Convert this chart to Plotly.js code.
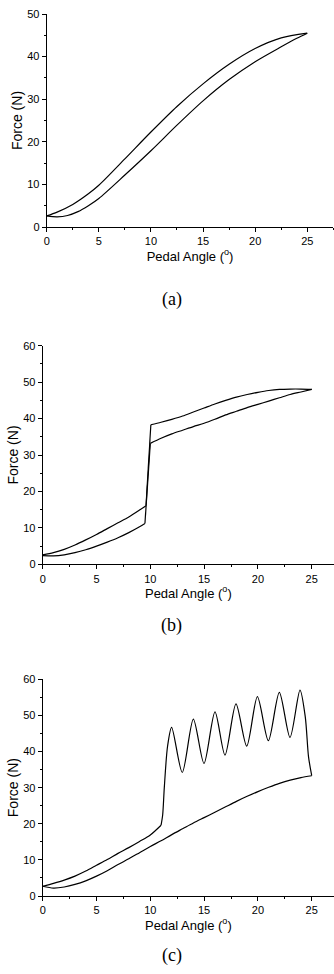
<!DOCTYPE html>
<html>
<head>
<meta charset="utf-8">
<script src="https://cdn.plot.ly/plotly-3.0.1.min.js"></script>
<style>html,body{margin:0;padding:0;background:#fff;}#chart{width:334px;height:974px;}</style>
</head>
<body>
<div id="chart"></div>
<script>
// ---------- data (a) ----------
const aUpperX = [0, 1, 2.5, 4, 5, 7.5, 10, 12.5, 15, 17.5, 20, 22.5, 25];
const aUpperY = [2.6, 3.5, 5.3, 7.8, 9.8, 16.0, 22.3, 28.3, 33.6, 38.2, 41.9, 44.4, 45.5];
const aLowerX = [0, 1, 2, 3, 4, 5, 7.5, 10, 12.5, 15, 17.5, 20, 22.5, 24, 25];
const aLowerY = [2.6, 2.4, 2.7, 3.6, 5.0, 6.7, 12.2, 17.9, 23.9, 29.6, 34.6, 38.8, 42.3, 44.3, 45.5];

// ---------- data (b) ----------
const bLoadPreX  = [0, 1, 2, 3, 4, 5, 6, 7, 8, 9, 9.6];
const bLoadPreY  = [2.6, 3.2, 4.1, 5.3, 6.7, 8.2, 9.8, 11.4, 13.0, 14.9, 16.1];
const bLoadPostX = [10.05, 11, 12, 13, 14, 15, 16, 17, 18, 19, 20, 21, 22, 23, 24, 25];
const bLoadPostY = [38.3, 39.0, 39.8, 40.7, 41.8, 42.9, 44.0, 45.0, 45.9, 46.6, 47.2, 47.7, 48.0, 48.1, 48.1, 48.0];
const bUnloadPostX = [25, 24, 23, 22, 21, 20, 19, 18, 17, 16, 15, 14, 13, 12, 11, 10];
const bUnloadPostY = [48.0, 47.3, 46.6, 45.7, 44.8, 43.9, 43.0, 42.0, 41.0, 39.8, 38.7, 37.8, 36.8, 35.8, 34.6, 33.2];
const bUnloadPreX  = [9.5, 9, 8, 7, 6, 5, 4, 3, 2, 1, 0];
const bUnloadPreY  = [11.2, 10.3, 8.7, 7.3, 6.1, 5.0, 4.0, 3.2, 2.6, 2.3, 2.4];

// ---------- data (c) ----------
const cLoadPreX = [0, 1, 2, 3, 4, 5, 6, 7, 8, 9, 10, 11.0];
const cLoadPreY = [2.7, 3.5, 4.4, 5.5, 6.9, 8.5, 10.1, 11.8, 13.4, 15.1, 16.9, 19.6];
const cOscX = [11.0, 11.15, 11.3, 11.6, 11.98, 12.97, 14.0, 14.99, 16.01, 16.94, 17.96, 18.96, 19.95, 20.97, 21.99, 22.98, 23.91, 24.4, 24.7, 25];
const cOscY = [19.6, 22.5, 30.0, 41.4, 46.7, 34.2, 49.0, 36.7, 51.0, 39.0, 53.2, 41.5, 55.2, 43.0, 56.4, 43.9, 57.0, 49.6, 38.6, 33.3];
const cUnloadX = [25, 24, 23, 22, 21, 20, 19, 18, 17, 16, 15, 14, 13, 12, 11, 10, 9, 8, 7, 6, 5, 4, 3, 2, 1, 0];
const cUnloadY = [33.3, 32.8, 32.1, 31.2, 30.1, 28.9, 27.6, 26.2, 24.7, 23.2, 21.7, 20.2, 18.6, 17.0, 15.3, 13.7, 12.0, 10.3, 8.7, 7.0, 5.5, 4.2, 3.2, 2.5, 2.2, 2.7];

// ---------- labels ----------
const xTitle = 'Pedal Angle (<sup>o</sup>)';
const yTitle = 'Force (N)';
const panelLabels = ['(a)', '(b)', '(c)'];

const W = 334, H = 974;
const lineStyle = {color: '#000', width: 1.2};

function tr(x, y, ax, shape) {
  return {x: x, y: y, xaxis: 'x' + ax, yaxis: 'y' + ax, mode: 'lines',
          line: Object.assign({shape: shape || 'spline', smoothing: 0.8}, lineStyle),
          hoverinfo: 'skip', showlegend: false};
}
function link(x1, y1, x2, y2, ax) {
  return tr([x1[x1.length - 1], x2[0]], [y1[y1.length - 1], y2[0]], ax, 'linear');
}

const data = [
  tr(aUpperX, aUpperY, ''), tr(aLowerX, aLowerY, ''),
  tr(bLoadPreX, bLoadPreY, '2'), link(bLoadPreX, bLoadPreY, bLoadPostX, bLoadPostY, '2'), tr(bLoadPostX, bLoadPostY, '2'),
  tr(bUnloadPostX, bUnloadPostY, '2'), link(bUnloadPostX, bUnloadPostY, bUnloadPreX, bUnloadPreY, '2'), tr(bUnloadPreX, bUnloadPreY, '2'),
  tr(cLoadPreX, cLoadPreY, '3'), tr(cOscX, cOscY, '3'), tr(cUnloadX, cUnloadY, '3')
];

const tickFont = {family: 'Liberation Sans, Arial, sans-serif', size: 11, color: '#000'};
const xTitleFont = {family: 'Liberation Sans, Arial, sans-serif', size: 13, color: '#000'};
const yTitleFont = {family: 'Liberation Sans, Arial, sans-serif', size: 14, color: '#000'};

function xa(px0, px1, range) {
  return {domain: [px0 / W, px1 / W], range: range,
    showline: true, linecolor: '#000', linewidth: 1, showgrid: false, zeroline: false,
    ticks: 'outside', ticklen: 4, tickwidth: 1, tickcolor: '#000', dtick: 5, tick0: 0,
    minor: {ticks: 'outside', ticklen: 2, dtick: 2.5, tickcolor: '#000', showgrid: false},
    tickfont: tickFont, title: {text: xTitle, font: xTitleFont, standoff: 4}, fixedrange: true};
}
function ya(py0, py1, range) {
  return {domain: [1 - py0 / H, 1 - py1 / H], range: range,
    showline: true, linecolor: '#000', linewidth: 1, showgrid: false, zeroline: false,
    ticks: 'outside', ticklen: 4, tickwidth: 1, tickcolor: '#000', dtick: 10, tick0: 0,
    minor: {ticks: 'outside', ticklen: 2, dtick: 5, tickcolor: '#000', showgrid: false},
    tickfont: tickFont, title: {text: yTitle, font: yTitleFont, standoff: 1}, fixedrange: true};
}

const layout = {
  width: W, height: H, margin: {l: 0, r: 0, t: 0, b: 0},
  paper_bgcolor: '#fff', plot_bgcolor: '#fff', showlegend: false,
  xaxis:  Object.assign(xa(46.7, 333.3, [0, 27.5]), {anchor: 'y'}),
  yaxis:  Object.assign(ya(227, 14, [0, 50]), {anchor: 'x'}),
  xaxis2: Object.assign(xa(42.7, 334, [0, 27.07]), {anchor: 'y2'}),
  yaxis2: Object.assign(ya(564.3, 345.7, [0, 60]), {anchor: 'x2'}),
  xaxis3: Object.assign(xa(42.7, 334, [0, 27.07]), {anchor: 'y3'}),
  yaxis3: Object.assign(ya(896, 679.3, [0, 60]), {anchor: 'x3'}),
  annotations: [
    {text: panelLabels[0], x: 172 / W, y: 1 - 299 / H},
    {text: panelLabels[1], x: 171 / W, y: 1 - 625 / H},
    {text: panelLabels[2], x: 172 / W, y: 1 - 955 / H}
  ].map(a => Object.assign(a, {xref: 'paper', yref: 'paper', showarrow: false,
    xanchor: 'center', yanchor: 'middle',
    font: {family: 'Liberation Serif, Times New Roman, serif', size: 18, color: '#000'}}))
};

Plotly.newPlot('chart', data, layout, {displayModeBar: false, staticPlot: true});
</script>
</body>
</html>
